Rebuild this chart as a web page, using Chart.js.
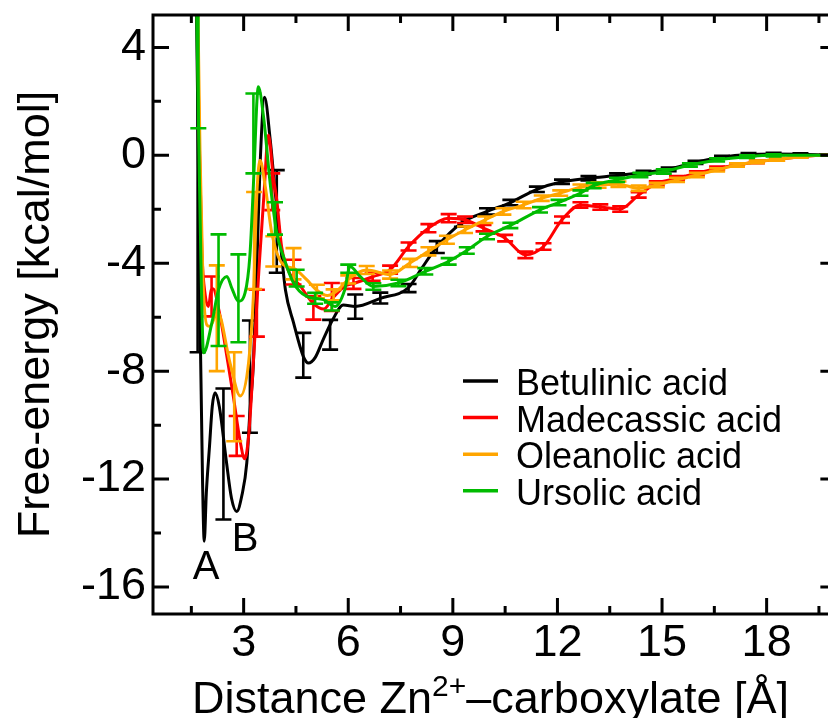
<!DOCTYPE html>
<html>
<head>
<meta charset="utf-8">
<script src="https://cdn.jsdelivr.net/npm/chart.js@4.4.0/dist/chart.umd.min.js"></script>
<style>
  html, body { margin: 0; padding: 0; background: #fff; overflow: hidden; }
</style>
</head>
<body>
<canvas id="chart" width="828" height="718"></canvas>
<script>
// ---- data ----
const seriesNames = ['Betulinic acid', 'Madecassic acid', 'Oleanolic acid', 'Ursolic acid'];
const seriesColors = ['#000000', '#ff0000', '#ffa500', '#00bb00'];

const xTicks = [3, 6, 9, 12, 15, 18];
const xMinorTicks = [1.5, 4.5, 7.5, 10.5, 13.5, 16.5, 19.5];
const yTicks = [-16, -12, -8, -4, 0, 4];
const yMinorTicks = [-14, -10, -6, -2, 2];

// Betulinic acid
const betX = [1.62, 1.70, 1.76, 1.82, 1.87, 1.93, 2.02, 2.10, 2.18, 2.30, 2.50, 2.65, 2.80, 2.95, 3.09, 3.18, 3.28, 3.38, 3.47, 3.60, 3.76, 3.90, 4.05, 4.20, 4.43, 4.71, 4.86, 5.05, 5.29, 5.55, 5.86, 6.20, 6.92, 7.73, 8.10, 8.54, 9.26, 9.98, 10.65, 11.41, 12.13, 12.89, 13.71, 14.47, 15.19, 15.96, 16.72, 17.48, 18.20, 18.97, 19.73, 20];
const betY = [8, 0, -7, -12, -14.3, -12.5, -10.8, -9.3, -8.8, -9.3, -11.3, -12.7, -13.2, -12.6, -11.4, -9.5, -7.7, -4.0, -0.4, 2.15, 0.6, -1.3, -3.2, -5.0, -6.2, -7.45, -7.7, -7.5, -6.8, -6.1, -5.55, -5.6, -5.3, -4.9, -4.2, -3.4, -2.5, -2.08, -1.75, -1.26, -0.98, -0.85, -0.75, -0.64, -0.52, -0.26, -0.07, 0.03, 0.05, 0.04, 0.01, 0];
const betErrX = [1.68, 2.42, 3.18, 3.95, 4.71, 5.48, 6.20, 6.92, 7.73, 8.54, 9.26, 9.98, 10.65, 11.41, 12.13, 12.89, 13.71, 14.47, 15.19, 15.96, 16.72, 17.48, 18.20, 18.97, 19.73];
const betErrY = [-1, -11.07, -8.2, -2.45, -7.41, -6.65, -5.61, -5.29, -4.92, -3.4, -2.5, -2.08, -1.75, -1.26, -0.98, -0.85, -0.75, -0.64, -0.52, -0.26, -0.07, 0.03, 0.05, 0.04, 0.01];
const betErrD = [6.3, 2.43, 2.08, 1.9, 0.83, 0.55, 0.45, 0.2, 0.15, 0.22, 0.15, 0.12, 0.1, 0.1, 0.08, 0.08, 0.08, 0.07, 0.07, 0.06, 0.05, 0.05, 0.04, 0.03, 0.02];

// Madecassic acid
const madX = [1.64, 1.72, 1.80, 1.90, 1.99, 2.07, 2.12, 2.30, 2.55, 2.70, 2.90, 3.03, 3.15, 3.30, 3.45, 3.58, 3.71, 3.85, 3.95, 4.09, 4.33, 4.60, 5.00, 5.30, 5.55, 5.90, 6.15, 6.70, 7.20, 7.73, 8.30, 8.88, 9.35, 9.88, 10.50, 11.08, 11.60, 12.13, 12.66, 13.23, 13.80, 14.33, 14.85, 15.43, 16.00, 16.58, 17.15, 17.72, 18.30, 18.97, 19.73, 20];
const madY = [8, 1, -3.5, -5.2, -5.6, -5.0, -4.95, -5.8, -7.7, -8.9, -10.6, -11.25, -10.3, -7.2, -4.0, -1.5, 0.75, -0.8, -1.65, -3.4, -4.4, -4.8, -5.5, -5.7, -5.3, -4.85, -4.75, -4.5, -4.24, -3.38, -2.7, -2.33, -2.39, -2.7, -3.07, -3.69, -3.38, -2.39, -1.84, -1.92, -1.99, -1.47, -1.04, -0.85, -0.67, -0.48, -0.36, -0.24, -0.15, -0.05, 0, 0];
const madErrX = [2.08, 2.80, 3.38, 3.82, 4.43, 5.00, 5.53, 6.15, 6.70, 7.20, 7.73, 8.30, 8.88, 9.35, 9.88, 10.50, 11.08, 11.60, 12.13, 12.66, 13.23, 13.80, 14.33, 14.85, 15.43, 16.00, 16.58, 17.15, 17.72, 18.30, 18.97];
const madErrY = [-5.23, -10.4, -5.85, -1.35, -4.33, -5.66, -5.25, -4.75, -4.5, -4.24, -3.38, -2.7, -2.33, -2.39, -2.7, -3.07, -3.69, -3.38, -2.39, -1.84, -1.92, -1.99, -1.47, -1.04, -0.85, -0.67, -0.48, -0.36, -0.24, -0.15, -0.05];
const madErrD = [0.74, 0.74, 0.87, 0.68, 0.46, 0.43, 0.52, 0.2, 0.15, 0.15, 0.15, 0.15, 0.15, 0.12, 0.12, 0.12, 0.12, 0.12, 0.12, 0.1, 0.1, 0.1, 0.1, 0.08, 0.08, 0.08, 0.06, 0.06, 0.05, 0.05, 0.04];

// Oleanolic acid
const oleX = [1.66, 1.75, 1.83, 1.95, 2.04, 2.25, 2.61, 2.90, 3.14, 3.28, 3.38, 3.47, 3.62, 3.81, 4.10, 4.45, 4.80, 5.10, 5.40, 5.70, 6.00, 6.53, 7.20, 7.77, 8.30, 8.83, 9.35, 9.93, 10.45, 11.03, 11.55, 12.08, 12.66, 13.18, 13.75, 14.33, 14.85, 15.43, 16.00, 16.58, 17.15, 17.72, 18.30, 18.97, 19.73, 20];
const oleY = [8, 0, -4.5, -6.3, -6.34, -5.8, -7.7, -8.92, -7.7, -5.2, -1.4, -0.18, -1.16, -2.9, -4.0, -4.2, -4.6, -5.0, -5.2, -5.0, -4.6, -4.25, -4.42, -3.99, -3.56, -3.13, -2.76, -2.39, -2.08, -1.84, -1.59, -1.4, -1.18, -1.1, -1.07, -1.22, -1.1, -0.91, -0.73, -0.54, -0.36, -0.24, -0.15, -0.05, 0, 0];
const oleErrX = [2.23, 2.73, 3.30, 3.85, 4.43, 5.10, 5.58, 6.00, 6.53, 7.20, 7.77, 8.30, 8.83, 9.35, 9.93, 10.45, 11.03, 11.55, 12.08, 12.66, 13.18, 13.75, 14.33, 14.85, 15.43, 16.00, 16.58, 17.15, 17.72, 18.30, 18.97];
const oleErrY = [-6.04, -8.95, -3.16, -3.56, -4.02, -5.05, -5.17, -4.6, -4.25, -4.42, -3.99, -3.56, -3.13, -2.76, -2.39, -2.08, -1.84, -1.59, -1.4, -1.18, -1.1, -1.07, -1.22, -1.1, -0.91, -0.73, -0.54, -0.36, -0.24, -0.15, -0.05];
const oleErrD = [1.96, 1.65, 1.8, 0.56, 0.58, 0.25, 0.2, 0.15, 0.15, 0.15, 0.15, 0.15, 0.15, 0.12, 0.12, 0.12, 0.12, 0.1, 0.1, 0.1, 0.1, 0.1, 0.1, 0.08, 0.08, 0.08, 0.06, 0.06, 0.05, 0.05, 0.04];

// Ursolic acid
const ursX = [1.62, 1.72, 1.79, 1.85, 2.09, 2.28, 2.52, 2.66, 2.85, 3.04, 3.18, 3.30, 3.38, 3.42, 3.57, 3.76, 3.95, 4.14, 4.43, 4.81, 5.29, 5.62, 5.90, 6.05, 6.34, 6.72, 7.44, 8.21, 8.88, 9.40, 9.98, 10.65, 11.50, 12.03, 12.66, 13.04, 13.71, 14.38, 15.05, 15.80, 16.58, 17.44, 18.20, 19.73, 20];
const ursY = [8, 0, -5.0, -7.32, -6.2, -4.98, -4.49, -4.92, -5.41, -5.1, -3.7, -0.5, 2.0, 2.54, 1.43, -1.03, -2.88, -3.75, -4.73, -5.23, -5.35, -5.6, -4.98, -4.12, -4.49, -4.86, -4.73, -4.3, -3.93, -3.53, -3.01, -2.6, -2.02, -1.75, -1.4, -1.12, -0.91, -0.73, -0.6, -0.36, -0.17, -0.05, 0, 0, 0];
const ursErrX = [1.70, 2.28, 2.85, 3.28, 3.90, 4.52, 5.05, 5.53, 6.00, 6.72, 7.44, 8.21, 8.88, 9.40, 9.98, 10.65, 11.50, 12.03, 12.66, 13.04, 13.71, 14.38, 15.05, 15.80, 16.58, 17.44, 18.20];
const ursErrY = [3.2, -5.0, -5.3, 0.81, -2.34, -4.55, -5.3, -5.6, -4.2, -4.86, -4.73, -4.3, -3.93, -3.53, -3.01, -2.6, -2.02, -1.75, -1.4, -1.12, -0.91, -0.73, -0.6, -0.36, -0.17, -0.05, 0];
const ursErrD = [2.2, 2.07, 1.63, 1.48, 0.6, 0.31, 0.2, 0.15, 0.15, 0.12, 0.12, 0.12, 0.12, 0.12, 0.1, 0.1, 0.1, 0.1, 0.1, 0.1, 0.08, 0.08, 0.08, 0.06, 0.06, 0.05, 0.04];

const minimaLabels = ['A', 'B'];
const minimaX = [1.92, 3.04];
const minimaY = [-15.7, -14.67];

// ---- helpers ----
const FONT = '"Liberation Sans", Arial, Helvetica, sans-serif';
function pts(xs, ys) { return xs.map((x, i) => ({ x: x, y: ys[i] })); }

const curves = [[betX, betY], [madX, madY], [oleX, oleY], [ursX, ursY]];
const errors = [
  [betErrX, betErrY, betErrD],
  [madErrX, madErrY, madErrD],
  [oleErrX, oleErrY, oleErrD],
  [ursErrX, ursErrY, ursErrD]
];

// error bars, drawn right after their own line
const errorBars = {
  id: 'errorBars',
  afterDatasetDraw(chart, args) {
    const e = errors[args.index];
    const { ctx, chartArea: a, scales: { x, y } } = chart;
    ctx.save();
    ctx.beginPath();
    ctx.rect(a.left, a.top, a.right - a.left, a.bottom - a.top);
    ctx.clip();
    ctx.strokeStyle = seriesColors[args.index];
    ctx.lineWidth = 2.6;
    ctx.beginPath();
    e[0].forEach(function (xv, i) {
      const px = x.getPixelForValue(xv);
      const top = y.getPixelForValue(e[1][i] + e[2][i]);
      const bot = y.getPixelForValue(e[1][i] - e[2][i]);
      ctx.moveTo(px, top); ctx.lineTo(px, bot);
      ctx.moveTo(px - 8, top); ctx.lineTo(px + 8, top);
      ctx.moveTo(px - 8, bot); ctx.lineTo(px + 8, bot);
    });
    ctx.stroke();
    ctx.restore();
  }
};

// box with inward ticks, legend, labels
const frame = {
  id: 'frame',
  afterDraw(chart) {
    const { ctx, chartArea: a, scales: { x, y } } = chart;
    const left = a.left, top = a.top, bottom = a.bottom;
    const right = x.getPixelForValue(20);
    ctx.save();
    ctx.strokeStyle = '#000';
    ctx.lineWidth = 3;
    ctx.lineCap = 'square';
    ctx.beginPath();
    ctx.moveTo(left, top); ctx.lineTo(right, top);
    ctx.lineTo(right, bottom); ctx.lineTo(left, bottom); ctx.closePath();
    ctx.stroke();
    ctx.lineCap = 'butt';
    ctx.beginPath();
    function xt(v, len) {
      const p = x.getPixelForValue(v);
      ctx.moveTo(p, bottom); ctx.lineTo(p, bottom - len);
      ctx.moveTo(p, top); ctx.lineTo(p, top + len);
    }
    function yt(v, len) {
      const p = y.getPixelForValue(v);
      ctx.moveTo(left, p); ctx.lineTo(left + len, p);
      ctx.moveTo(right, p); ctx.lineTo(right - len, p);
    }
    xTicks.forEach(v => xt(v, 16));
    xMinorTicks.forEach(v => xt(v, 8));
    yTicks.forEach(v => yt(v, 16));
    yMinorTicks.forEach(v => yt(v, 8));
    ctx.stroke();

    // legend
    ctx.font = '36px ' + FONT;
    ctx.textBaseline = 'alphabetic';
    ctx.textAlign = 'left';
    seriesNames.forEach(function (name, i) {
      const base = a.top + 380 + i * 36.6;
      ctx.strokeStyle = seriesColors[i];
      ctx.lineWidth = 3.5;
      ctx.beginPath();
      ctx.moveTo(a.left + 310, base - 14); ctx.lineTo(a.left + 345, base - 14);
      ctx.stroke();
      ctx.fillStyle = '#000';
      ctx.fillText(name, a.left + 363, base);
    });

    // minima labels
    ctx.font = '40px ' + FONT;
    ctx.textAlign = 'center';
    minimaLabels.forEach(function (t, i) {
      ctx.fillText(t, x.getPixelForValue(minimaX[i]), y.getPixelForValue(minimaY[i]));
    });

    // x axis title with superscript
    const big = '45px ' + FONT, small = '30px ' + FONT;
    const parts = [['Distance Zn', big, 0], ['2+', small, -17], ['\u2013carboxylate [\u00c5]', big, 0]];
    let w = 0;
    parts.forEach(p => { ctx.font = p[1]; w += ctx.measureText(p[0]).width; });
    let cx = (a.left + a.right) / 2 - w / 2;
    ctx.textAlign = 'left';
    parts.forEach(p => {
      ctx.font = p[1];
      ctx.fillText(p[0], cx, 713 + p[2]);
      cx += ctx.measureText(p[0]).width;
    });
    ctx.restore();
  }
};

const datasets = curves.map(function (c, i) {
  return {
    label: seriesNames[i],
    data: pts(c[0], c[1]),
    borderColor: seriesColors[i],
    backgroundColor: seriesColors[i],
    borderWidth: 3,
    pointRadius: 0,
    cubicInterpolationMode: 'monotone',
    order: 4 - i
  };
});

new Chart(document.getElementById('chart').getContext('2d'), {
  type: 'line',
  data: { datasets: datasets },
  plugins: [errorBars, frame],
  options: {
    responsive: false,
    animation: false,
    devicePixelRatio: 1,
    layout: { padding: { top: 15, right: 0, bottom: 0, left: 0 } },
    plugins: { legend: { display: false }, tooltip: { enabled: false } },
    scales: {
      x: {
        type: 'linear',
        min: 0.4,
        max: 19.76,
        afterBuildTicks: s => { s.ticks = xTicks.map(v => ({ value: v })); },
        afterFit: s => { s.height = 104; s.paddingLeft = 0; s.paddingRight = 0; },
        grid: { display: false, drawTicks: false },
        border: { display: false },
        ticks: { color: '#000', font: { family: FONT, size: 45 }, padding: 3, maxRotation: 0, autoSkip: false }
      },
      y: {
        type: 'linear',
        min: -17,
        max: 5.2,
        afterBuildTicks: s => { s.ticks = yTicks.map(v => ({ value: v })); },
        afterFit: s => { s.width = 153; s.paddingTop = 0; s.paddingBottom = 0; },
        grid: { display: false, drawTicks: false },
        border: { display: false },
        ticks: { color: '#000', font: { family: FONT, size: 45 }, padding: 7 },
        title: {
          display: true,
          text: 'Free-energy [kcal/mol]',
          color: '#000',
          font: { family: FONT, size: 45 },
          padding: { top: 10, bottom: 0 }
        }
      }
    }
  }
});
</script>
</body>
</html>
